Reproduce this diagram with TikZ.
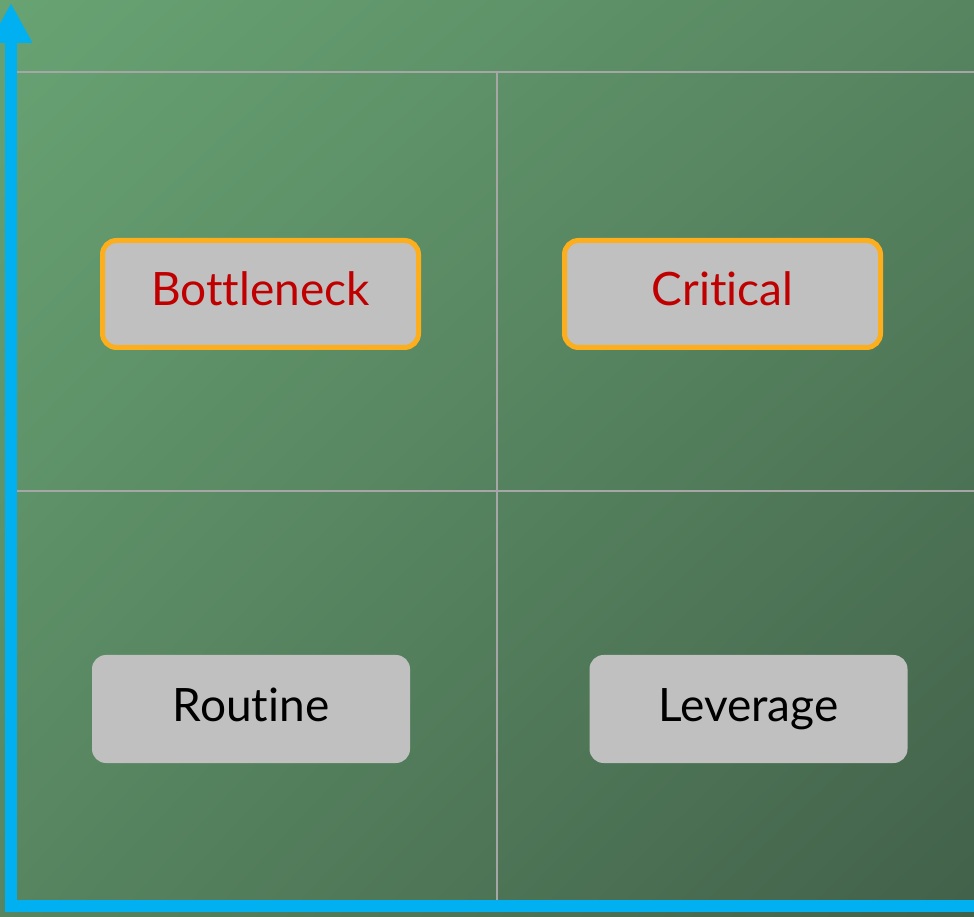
\documentclass[tikz,border=0pt]{standalone}
\usepackage{fontspec}
\newfontfamily\boxfont[Ligatures=NoCommon]{Lato}
\usetikzlibrary{arrows.meta,shadings}
\definecolor{bgTL}{HTML}{68A373}
\definecolor{bgBR}{HTML}{42614A}
\definecolor{bgMid}{HTML}{578560}
\definecolor{axisblue}{HTML}{00B0F0}
\definecolor{gridgray}{HTML}{A6A6A6}
\definecolor{boxgray}{HTML}{C0C0C0}
\definecolor{boxorange}{HTML}{FDAE1C}
\definecolor{textred}{HTML}{C00000}
\tikzset{
  quad/.style={rectangle, rounded corners=14pt, fill=boxgray, minimum width=318pt, minimum height=108pt, inner sep=0pt, text height=30pt, text depth=6pt, font=\boxfont\fontsize{46}{54}\selectfont},
  hot/.style={quad, draw=boxorange, line width=5pt, minimum width=316pt, minimum height=107pt, text=textred},
  cold/.style={quad, text=black},
  gridline/.style={draw=gridgray, line width=2pt},
  axisline/.style={draw=axisblue, line width=12pt, line join=miter}
}
\begin{document}
\begin{tikzpicture}[x=1pt,y=1pt]
\useasboundingbox (0,0) rectangle (974,916);
\clip (0,0) rectangle (974,916);
\shade[upper left=bgTL, lower right=bgBR, upper right=bgMid, lower left=bgMid] (0,0) rectangle (974,916);
% grid
\coordinate (hA1) at (17,844); \coordinate (hA2) at (980,844);
\coordinate (hB1) at (17,425); \coordinate (hB2) at (980,425);
\coordinate (v1) at (497,844); \coordinate (v2) at (497,16);
\draw[gridline] (hA1) -- (hA2);
\draw[gridline] (hB1) -- (hB2);
\draw[gridline] (v1) -- (v2);
% axes
\coordinate (xend) at (990,10);
\coordinate (origin) at (11,10);
\coordinate (yend) at (11,913);
\draw[axisline, -{Triangle[width=40pt,length=40pt]}] (xend) -- (origin) -- (yend);
% boxes
\node[hot] (bottleneck) at (260.5,622) {Bottleneck};
\node[hot] (critical) at (722.5,622) {Critical};
\node[cold] (routine) at (251,207) {Routine};
\node[cold] (leverage) at (748.5,207) {Leverage};
\end{tikzpicture}
\end{document}
